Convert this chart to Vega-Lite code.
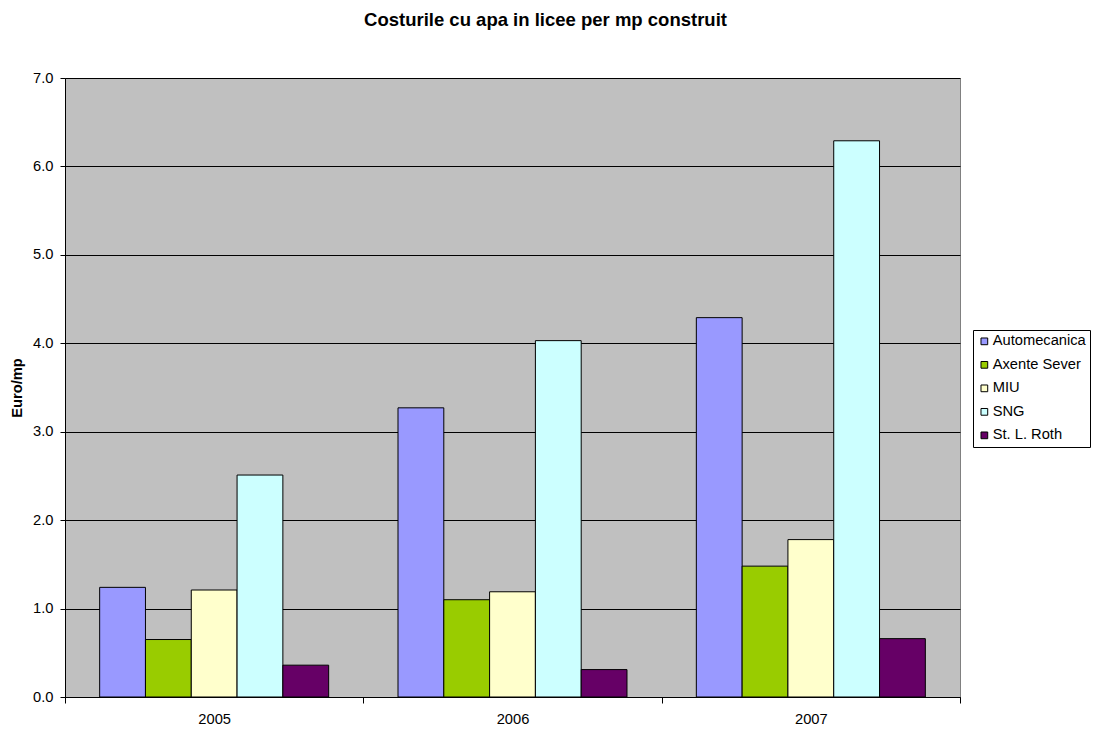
{
  "$schema": "https://vega.github.io/schema/vega-lite/v6.json",
  "width": 895,
  "height": 619,
  "autosize": "none",
  "padding": {"left": 65, "top": 78, "right": 133, "bottom": 32},
  "background": "white",
  "title": {
    "text": "Costurile cu apa in licee per mp construit",
    "font": "Liberation Sans",
    "fontSize": 18.5,
    "fontWeight": "bold",
    "color": "black",
    "anchor": "middle",
    "frame": "group",
    "dx": 33,
    "offset": 41
  },
  "config": {
    "view": {"fill": "#C0C0C0", "stroke": "#808080", "strokeWidth": 1},
    "font": "Liberation Sans"
  },
  "data": {
    "values": [
      {"year": "2005", "school": "Automecanica", "value": 1.24},
      {"year": "2005", "school": "Axente Sever", "value": 0.65},
      {"year": "2005", "school": "MIU", "value": 1.21},
      {"year": "2005", "school": "SNG", "value": 2.51},
      {"year": "2005", "school": "St. L. Roth", "value": 0.36},
      {"year": "2006", "school": "Automecanica", "value": 3.27},
      {"year": "2006", "school": "Axente Sever", "value": 1.10},
      {"year": "2006", "school": "MIU", "value": 1.19},
      {"year": "2006", "school": "SNG", "value": 4.03},
      {"year": "2006", "school": "St. L. Roth", "value": 0.31},
      {"year": "2007", "school": "Automecanica", "value": 4.29},
      {"year": "2007", "school": "Axente Sever", "value": 1.48},
      {"year": "2007", "school": "MIU", "value": 1.78},
      {"year": "2007", "school": "SNG", "value": 6.29},
      {"year": "2007", "school": "St. L. Roth", "value": 0.66}
    ]
  },
  "mark": {"type": "bar", "stroke": "black", "strokeWidth": 1},
  "encoding": {
    "x": {
      "field": "year",
      "type": "nominal",
      "scale": {"paddingInner": 0, "paddingOuter": 0},
      "axis": {
        "title": null,
        "labelAngle": 0,
        "labelFontSize": 14.7,
        "labelColor": "black",
        "labelPadding": 8,
        "tickBand": "extent",
        "tickSize": 6,
        "tickColor": "black",
        "domainColor": "black",
        "grid": false
      }
    },
    "xOffset": {"field": "school", "type": "nominal", "scale": {"paddingInner": 0, "paddingOuter": 0.757}},
    "y": {
      "field": "value",
      "type": "quantitative",
      "scale": {"domain": [0, 7], "nice": false},
      "axis": {
        "title": "Euro/mp",
        "titleFontSize": 14.7,
        "titleFontWeight": "bold",
        "titleColor": "black",
        "titlePadding": 8,
        "values": [0, 1, 2, 3, 4, 5, 6, 7],
        "format": ".1f",
        "labelFontSize": 14.7,
        "labelColor": "black",
        "labelPadding": 7,
        "tickSize": 5,
        "tickColor": "black",
        "domainColor": "black",
        "grid": true,
        "gridColor": "black",
        "gridOpacity": 1,
        "gridWidth": 1
      }
    },
    "color": {
      "field": "school",
      "type": "nominal",
      "scale": {
        "domain": ["Automecanica", "Axente Sever", "MIU", "SNG", "St. L. Roth"],
        "range": ["#9999FF", "#99CC00", "#FFFFCC", "#CCFFFF", "#660066"]
      },
      "legend": {
        "title": null,
        "orient": "none",
        "legendX": 908,
        "legendY": 252,
        "symbolType": "square",
        "symbolSize": 45,
        "symbolStrokeColor": "black",
        "symbolStrokeWidth": 1,
        "symbolOpacity": 1,
        "labelFontSize": 14.7,
        "labelColor": "black",
        "labelOffset": 1,
        "rowPadding": 7.5,
        "padding": 4,
        "strokeColor": "black",
        "fillColor": "white"
      }
    }
  }
}
